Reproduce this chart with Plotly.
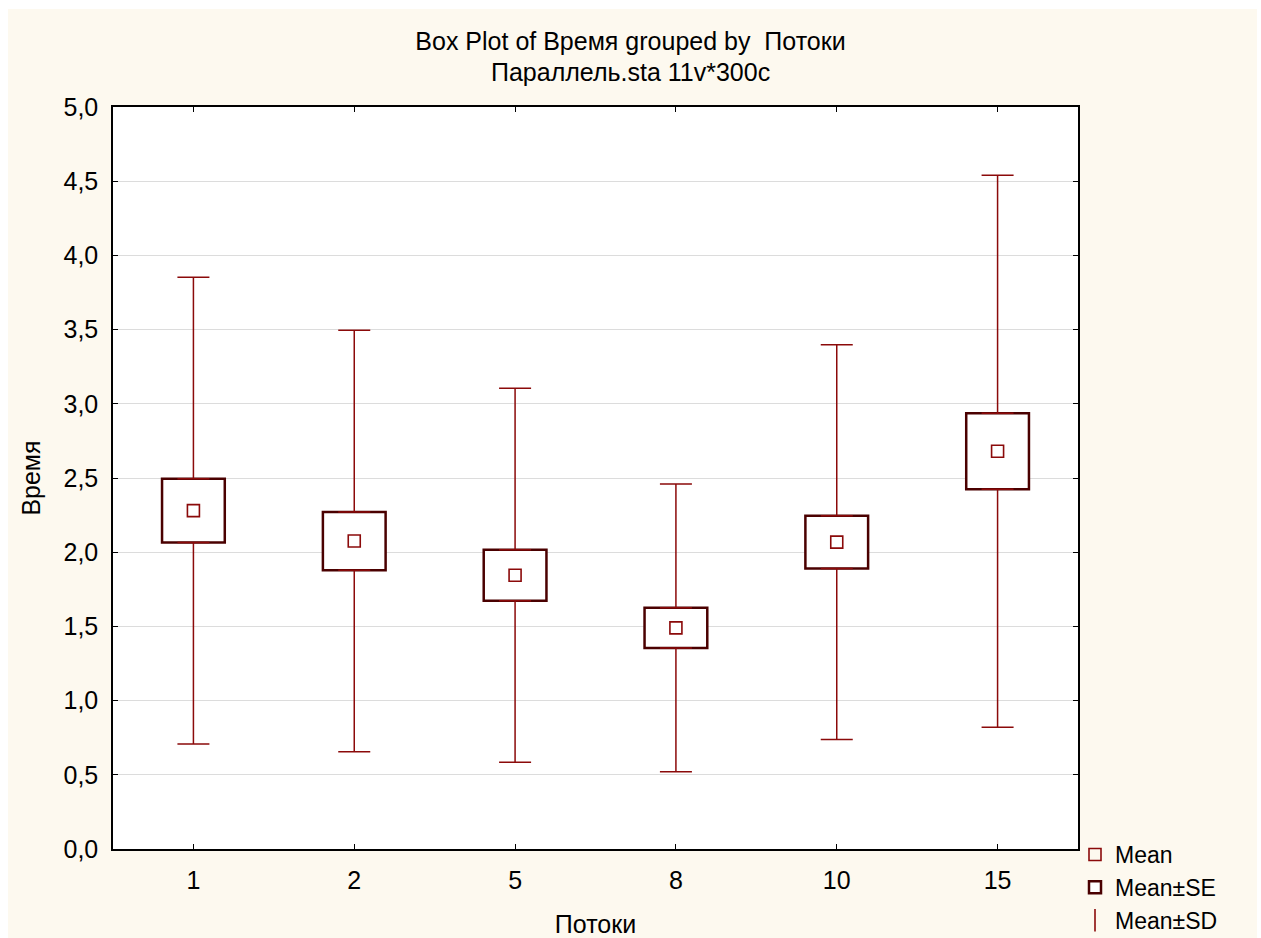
import plotly.graph_objects as go

categories = ["1", "2", "5", "8", "10", "15"]
means = [2.28, 2.075, 1.845, 1.49, 2.068, 2.68]
se = [0.215, 0.196, 0.172, 0.135, 0.178, 0.256]
sd = [1.573, 1.42, 1.26, 0.97, 1.33, 1.86]
y_ticks = [0.0, 0.5, 1.0, 1.5, 2.0, 2.5, 3.0, 3.5, 4.0, 4.5, 5.0]

WHISK = "#8b0a0a"
BOXC = "#4a0000"
CREAM = "#fdf9ef"
FONT = "Arial, 'Liberation Sans', sans-serif"
FS = 25

W, H = 1261, 938
ML, MR, MT, MB = 113, 183, 107, 89
PW, PH = W - ML - MR, H - MT - MB

fig = go.Figure()

# SD whiskers (upper and lower parts, drawn from SE box edges)
fig.add_trace(go.Scatter(
    x=categories, y=[m + s for m, s in zip(means, se)], mode="markers",
    marker=dict(size=0.1, opacity=0), showlegend=False, hoverinfo="skip",
    error_y=dict(type="data", symmetric=False,
                 array=[d - s for d, s in zip(sd, se)], arrayminus=[0] * 6,
                 color=WHISK, thickness=1.5, width=16)))
fig.add_trace(go.Scatter(
    x=categories, y=[m - s for m, s in zip(means, se)], mode="markers",
    marker=dict(size=0.1, opacity=0), showlegend=False, hoverinfo="skip",
    error_y=dict(type="data", symmetric=False,
                 array=[0] * 6, arrayminus=[d - s for d, s in zip(sd, se)],
                 color=WHISK, thickness=1.5, width=16)))

# SE boxes
fig.add_trace(go.Bar(
    x=categories, y=[2 * s for s in se], base=[m - s for m, s in zip(means, se)],
    width=0.39, marker=dict(color="white", line=dict(color=BOXC, width=2.5)),
    name="Mean±SE", legendgroup="b", legendrank=2, showlegend=True))

# Means
fig.add_trace(go.Scatter(
    x=categories, y=means, mode="markers", name="Mean", legendgroup="a", legendrank=1,
    marker=dict(symbol="square-open", size=12, color=WHISK, line=dict(width=1.6, color=WHISK))))

# Legend-only entry for SD
fig.add_trace(go.Scatter(
    x=[None], y=[None], mode="markers", name="Mean±SD", legendgroup="c", legendrank=3,
    marker=dict(symbol="line-ns-open", size=20, color=WHISK, line=dict(width=1.6, color=WHISK))))

shapes = [
    dict(type="rect", xref="paper", yref="paper", layer="below",
         x0=(8 - ML) / PW, x1=(1257 - ML) / PW, y0=-(MB + 5) / PH, y1=(PH + MT - 9) / PH,
         fillcolor=CREAM, line=dict(width=0)),
    dict(type="rect", xref="paper", yref="paper", layer="below",
         x0=0, x1=1, y0=0, y1=1, fillcolor="white", line=dict(width=0)),
]

fig.update_layout(
    width=W, height=H,
    margin=dict(l=ML, r=MR, t=MT, b=MB, autoexpand=False),
    paper_bgcolor="white", plot_bgcolor="white",
    separators=", ",
    font=dict(family=FONT, size=FS, color="black"),
    shapes=shapes,
    barmode="overlay",
    title=dict(text="Box Plot of Время grouped by  Потоки", x=0.5, xref="container",
               xanchor="center", y=1 - 41 / H, yref="container", yanchor="middle",
               font=dict(size=FS, family=FONT, color="black")),
    annotations=[dict(text="Параллель.sta 11v*300c", xref="paper", yref="paper",
                      x=(W / 2 - ML) / PW, y=1 + (107 - 72) / PH, xanchor="center", yanchor="middle",
                      showarrow=False, font=dict(size=FS, family=FONT, color="black"))],
    xaxis=dict(type="category", categoryorder="array", categoryarray=categories,
               range=[-0.5, 5.5], showgrid=False, showline=True, linecolor="black", linewidth=1.5,
               mirror="ticks", ticks="inside", ticklen=5, tickcolor="black",
               title=dict(text="Потоки", standoff=33, font=dict(size=FS)),
               tickfont=dict(size=FS), ticklabelstandoff=8, zeroline=False, automargin=False),
    yaxis=dict(range=[0, 5], tickvals=y_ticks, tickformat=".1f", showgrid=True,
               gridcolor="#dcdcdc", gridwidth=1, showline=True, linecolor="black", linewidth=1.5,
               mirror="ticks", ticks="inside", ticklen=5, tickcolor="black",
               title=dict(text="Время", standoff=16, font=dict(size=FS)),
               tickfont=dict(size=FS), ticklabelstandoff=8, zeroline=False, automargin=False),
    legend=dict(x=1075 / W, xref="container", xanchor="left", y=1 - 833 / H, yref="container",
                yanchor="top", bgcolor="rgba(0,0,0,0)", font=dict(size=23), tracegroupgap=0,
                itemwidth=30),
)

fig.write_html("out.html")
